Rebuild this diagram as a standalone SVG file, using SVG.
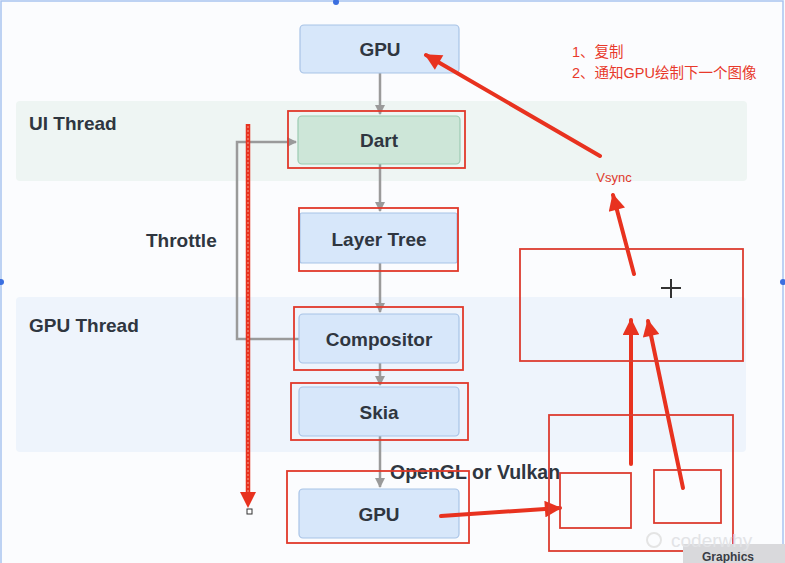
<svg xmlns="http://www.w3.org/2000/svg" width="785" height="563" viewBox="0 0 785 563">
<defs>
<marker id="grayArrow" viewBox="0 0 10 10" refX="9" refY="5" markerWidth="4" markerHeight="4" orient="auto" markerUnits="strokeWidth">
<path d="M0,0 L10,5 L0,10 z" fill="#9a9a9a"/>
</marker>
<marker id="redArrow" viewBox="0 0 10 10" refX="9" refY="5" markerWidth="5" markerHeight="4.2" orient="auto" markerUnits="strokeWidth">
<path d="M0,0 L10,5 L0,10 z" fill="#e8321f"/>
</marker>
<style>
.lbl{font-family:"Liberation Sans",Arial,sans-serif;font-weight:bold;font-size:19px;fill:#2f3640;}
.node{fill:#d7e7fa;stroke:#a8c3e6;stroke-width:1.2;}
.dart{fill:#cde6d8;stroke:#9ccbb2;stroke-width:1.2;}
.hl{fill:none;stroke:#e0392b;stroke-width:1.8;}
.conn{fill:none;stroke:#9a9a9a;stroke-width:2.5;}
.red{fill:none;stroke:#e8321f;stroke-width:4;stroke-linecap:round;}
.rtxt{font-family:"Liberation Sans","Noto Sans CJK SC",sans-serif;font-size:14.5px;fill:#e8392b;}
.box{fill:none;stroke:#dc3c30;stroke-width:1.8;}
</style>
</defs>
<rect x="0" y="0" width="785" height="563" fill="#fbfcfe"/>
<rect x="1" y="1" width="782" height="570" fill="none" stroke="#a9c3ef" stroke-width="1.5"/>
<circle cx="336" cy="2" r="3" fill="#3b6fe0"/>
<circle cx="1" cy="282" r="3" fill="#3b6fe0"/>
<circle cx="783" cy="282" r="3" fill="#3b6fe0"/>

<g id="bands">
<rect x="16" y="101" width="731" height="80" rx="4" fill="#eef5f3"/>
<rect x="16" y="297" width="730" height="155" rx="4" fill="#eef4fc"/>
<text class="lbl" x="29" y="130">UI Thread</text>
<text class="lbl" x="29" y="332">GPU Thread</text>
</g>

<g id="connectors">
<line class="conn" x1="380" y1="73" x2="380" y2="114" marker-end="url(#grayArrow)"/>
<line class="conn" x1="380" y1="164" x2="380" y2="211" marker-end="url(#grayArrow)"/>
<line class="conn" x1="380" y1="263" x2="380" y2="312" marker-end="url(#grayArrow)"/>
<line class="conn" x1="380" y1="363" x2="380" y2="385" marker-end="url(#grayArrow)"/>
<line class="conn" x1="380" y1="436" x2="380" y2="487" marker-end="url(#grayArrow)"/>
<polyline class="conn" points="299,339 237,339 237,142 296,142" marker-end="url(#grayArrow)"/>
<text class="lbl" x="146" y="247">Throttle</text>
<text class="lbl" x="390" y="479" style="font-size:19.5px">OpenGL or Vulkan</text>
</g>

<g id="gpu-top">
<rect class="node" x="300" y="25" width="159" height="48" rx="4"/>
<text class="lbl" x="380" y="56" text-anchor="middle">GPU</text>
</g>
<g id="dart">
<rect class="dart" x="298" y="116" width="162" height="48" rx="4"/>
<rect class="hl" x="288" y="111" width="177" height="57"/>
<text class="lbl" x="379" y="147" text-anchor="middle">Dart</text>
</g>
<g id="layer-tree">
<rect class="node" x="300" y="213" width="157" height="50" rx="2"/>
<rect class="hl" x="299" y="208" width="159" height="63"/>
<text class="lbl" x="379" y="246" text-anchor="middle">Layer Tree</text>
</g>
<g id="compositor">
<rect class="node" x="299" y="314" width="160" height="49" rx="4"/>
<rect class="hl" x="294" y="307" width="169" height="63"/>
<text class="lbl" x="379" y="346" text-anchor="middle">Compositor</text>
</g>
<g id="skia">
<rect class="node" x="299" y="387" width="160" height="49" rx="4"/>
<rect class="hl" x="291" y="383" width="177" height="57"/>
<text class="lbl" x="379" y="419" text-anchor="middle">Skia</text>
</g>
<g id="gpu-bottom">
<rect class="node" x="299" y="489" width="160" height="49" rx="4"/>
<rect class="hl" x="287" y="471" width="182" height="72"/>
<text class="lbl" x="379" y="521" text-anchor="middle">GPU</text>
</g>

<g id="annotations">
<line x1="248" y1="124" x2="248" y2="494" stroke="#e8321f" stroke-width="4.5"/>
<line x1="248" y1="126" x2="248" y2="494" stroke="#f4a090" stroke-width="1" stroke-dasharray="2 2"/>
<path d="M240,492 L256,492 L248,508 z" fill="#e8321f"/>
<rect x="247" y="509" width="5" height="5" fill="#fff" stroke="#333" stroke-width="1"/>

<text class="rtxt" x="572" y="57">1、复制</text>
<text class="rtxt" x="572" y="78">2、通知GPU绘制下一个图像</text>
<text x="614" y="182" text-anchor="middle" style="font-family:'Liberation Sans',Arial,sans-serif;font-size:13px;fill:#e0392b">Vsync</text>

<line class="red" x1="600" y1="156" x2="426" y2="55" marker-end="url(#redArrow)"/>
<line class="red" x1="634" y1="274" x2="613" y2="195" marker-end="url(#redArrow)"/>
<line class="red" x1="631" y1="464" x2="631" y2="320" marker-end="url(#redArrow)"/>
<line class="red" x1="683" y1="488" x2="648" y2="321" marker-end="url(#redArrow)"/>
<line class="red" x1="441" y1="516" x2="560" y2="508" marker-end="url(#redArrow)"/>

<rect class="box" x="520" y="249" width="223" height="112"/>
<rect class="box" x="549" y="415" width="184" height="136"/>
<rect class="box" x="560" y="473" width="71" height="55"/>
<rect class="box" x="654" y="470" width="67" height="53"/>

<g stroke="#333" stroke-width="2">
<line x1="661" y1="288" x2="681" y2="288"/>
<line x1="671" y1="279" x2="671" y2="298"/>
</g>
</g>

<g id="watermark">
<rect x="683" y="544" width="102" height="19" fill="#d9d9dc"/>
<circle cx="654" cy="540" r="7" fill="none" stroke="#e4e4e4" stroke-width="2"/>
<text x="671" y="547" style="font-family:'Liberation Sans',Arial,sans-serif;font-size:19px;fill:#e2e3e6">coderwhy</text>
<text x="702" y="561" style="font-family:'Liberation Sans',Arial,sans-serif;font-size:12px;font-weight:bold;fill:#3a3d45">Graphics</text>
</g>
</svg>
